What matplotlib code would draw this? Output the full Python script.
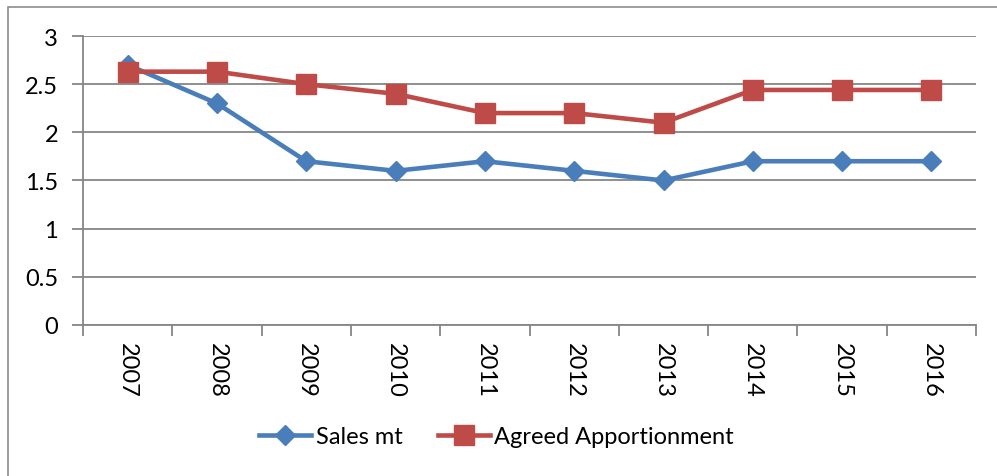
import matplotlib.pyplot as plt
from matplotlib.patches import Rectangle

years = ["2007", "2008", "2009", "2010", "2011", "2012", "2013", "2014", "2015", "2016"]
sales_mt = [2.7, 2.3, 1.7, 1.6, 1.7, 1.6, 1.5, 1.7, 1.7, 1.7]
agreed = [2.63, 2.63, 2.5, 2.4, 2.2, 2.2, 2.1, 2.44, 2.44, 2.44]

plt.rcParams['font.family'] = ['Lato', 'DejaVu Sans']
grid_col = '#868686'

fig = plt.figure(figsize=(9.97, 4.77), dpi=100)
ax = fig.add_axes([0.0833, 0.3166, 0.8957, 0.6058])

# outer chart border
fig.patches.append(Rectangle((8 / 997, -0.1), 1.2, 1 - 8 / 477 + 0.1, transform=fig.transFigure,
                             fill=False, edgecolor='#8c8c8c', linewidth=1.2))

x = list(range(len(years)))
ax.plot(x, sales_mt, color='#4A7EBB', linewidth=3.3, marker='D', markersize=10.5, label='Sales mt', zorder=3)
ax.plot(x, agreed, color='#BE4B48', linewidth=3.3, marker='s', markersize=14, label='Agreed Apportionment', zorder=3)

ax.set_xlim(-0.5, 9.5)
ax.set_ylim(0, 3)
ax.set_yticks([0, 0.5, 1, 1.5, 2, 2.5, 3])
ax.set_yticklabels(['0', '0.5', '1', '1.5', '2', '2.5', '3'], fontsize=17)
ax.yaxis.grid(True, color=grid_col, linewidth=1.3)
ax.set_axisbelow(True)

ax.set_xticks(x)
ax.set_xticklabels(years, rotation=-90, fontsize=17)
ax.set_xticks([i - 0.5 for i in range(len(years) + 1)], minor=True)
ax.tick_params(axis='x', which='major', length=0, pad=12)
ax.tick_params(axis='x', which='minor', length=8, width=1.3, color=grid_col, direction='out')
ax.tick_params(axis='y', length=8, width=1.3, color=grid_col, direction='out', pad=10)

for s in ['top', 'right']:
    ax.spines[s].set_visible(False)
for s in ['left', 'bottom']:
    ax.spines[s].set_color(grid_col)
    ax.spines[s].set_linewidth(1.3)

ax.legend(loc='center', bbox_to_anchor=(0.498, 0.082), bbox_transform=fig.transFigure, ncol=2,
          frameon=False, fontsize=17, handlelength=2.2, handletextpad=0.2, columnspacing=1.5)

fig.savefig('out.png', dpi=100)
